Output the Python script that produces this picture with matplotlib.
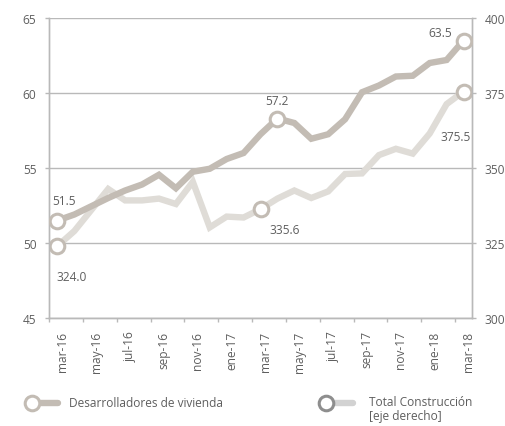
import numpy as np
import matplotlib
matplotlib.use("Agg")
import matplotlib.pyplot as plt
from matplotlib.lines import Line2D

plt.rcParams['font.family'] = ['Open Sans', 'DejaVu Sans']

# monthly, mar-16 .. mar-18
months = ["mar-16", "abr-16", "may-16", "jun-16", "jul-16", "ago-16", "sep-16", "oct-16",
          "nov-16", "dic-16", "ene-17", "feb-17", "mar-17", "abr-17", "may-17", "jun-17",
          "jul-17", "ago-17", "sep-17", "oct-17", "nov-17", "dic-17", "ene-18", "feb-18", "mar-18"]
vivienda = [51.5, 51.9, 52.45, 53.0, 53.5, 53.9, 54.55, 53.65, 54.75, 54.95, 55.6, 56.0,
            57.25, 58.3, 58.0, 56.95, 57.25, 58.25, 60.05, 60.5, 61.1, 61.15, 62.0, 62.2, 63.5]
construccion = [324.0, 329.0, 336.0, 343.0, 339.2, 339.2, 339.8, 338.0, 345.4, 330.2, 333.8, 333.5,
                336.3, 339.8, 342.5, 340.0, 342.2, 348.0, 348.2, 354.3, 356.4, 354.8, 361.5, 371.3, 375.5]

# highlighted points: (index, label text)
viv_marks = [(0, "51.5"), (13, "57.2"), (24, "63.5")]
con_marks = [(0, "324.0"), (12, "335.6"), (24, "375.5")]

c_dark = "#c3bcb4"
c_light = "#dfdcd7"
c_text = "#5e5e5e"
c_grid = "#b9b9b9"
fs = 8.6

fig = plt.figure(figsize=(5.06, 4.27), dpi=100)
ax = fig.add_axes([49/506, 1-319/427, 423/506, 300/427])
ax2 = ax.twinx()
ax.set_zorder(ax2.get_zorder() + 1)
ax.patch.set_visible(False)

x = np.arange(len(months))

# light series (right axis) underneath
ax2.plot(x, construccion, color=c_light, lw=4.6, solid_joinstyle="miter", zorder=2)
ax2.set_ylim(300, 400)
ax2.set_yticks([300, 325, 350, 375, 400])
ax2.yaxis.grid(True, color=c_grid, lw=1)
ax2.set_axisbelow(True)

ax.plot(x, vivienda, color=c_dark, lw=4.6, solid_joinstyle="miter", zorder=3)
ax.set_ylim(45, 65)
ax.set_yticks([45, 50, 55, 60, 65])
ax.set_xlim(-0.5, len(months) - 0.5)

for i, t in viv_marks:
    ax.plot(x[i], vivienda[i], "o", ms=10.5, mfc="white", mec=c_dark, mew=2.2, zorder=5)
for i, t in con_marks:
    ax2.plot(x[i], construccion[i], "o", ms=10.5, mfc="white", mec=c_dark, mew=2.2, zorder=5)

lab = dict(textcoords="offset pixels", color=c_text, fontsize=fs, va="center")
ax.annotate(viv_marks[0][1], (x[0], vivienda[0]), xytext=(-5, 20), ha="left", **lab)
ax.annotate(viv_marks[1][1], (x[13], vivienda[13]), xytext=(0, 18), ha="center", **lab)
ax.annotate(viv_marks[2][1], (x[24], vivienda[24]), xytext=(-12, 8), ha="right", **lab)
ax2.annotate(con_marks[0][1], (x[0], construccion[0]), xytext=(-1, -30), ha="left", **lab)
ax2.annotate(con_marks[1][1], (x[12], construccion[12]), xytext=(24, -20), ha="center", **lab)
ax2.annotate(con_marks[2][1], (x[24], construccion[24]), xytext=(7, -45), ha="right", **lab)

# x ticks at boundaries every 2 months, labels via minor ticks
ax.set_xticks(np.arange(-0.5, len(months) - 1, 2))
ax.set_xticklabels([])
ax.set_xticks(np.arange(0, len(months), 2) + 0.3, minor=True)
ax.set_xticklabels(months[::2], minor=True, rotation=90)
ax.tick_params(axis="x", which="major", length=3, color=c_grid, width=1)
ax.tick_params(axis="x", which="minor", length=0, pad=9, labelsize=fs, labelcolor=c_text)

ax.tick_params(axis="y", length=3, color=c_grid, width=1, pad=6, labelsize=fs, labelcolor=c_text)
ax2.tick_params(axis="y", length=3, color=c_grid, width=1, pad=6, labelsize=fs, labelcolor=c_text)

for a in (ax, ax2):
    for s in a.spines.values():
        s.set_color(c_grid)
        s.set_linewidth(1)
    a.spines["top"].set_visible(False)

# legend, drawn by hand (marker on the left of a short thick line)
fig.add_artist(Line2D([32/506, 58/506], [1-404/427]*2, color=c_dark, lw=4.6, solid_capstyle="round"))
fig.add_artist(Line2D([32/506], [1-404/427], marker="o", ms=10.5, mfc="white", mec=c_dark, mew=2.2))
fig.text(69/506, 1-404/427, "Desarrolladores de vivienda", color=c_text, fontsize=fs, va="center")
fig.add_artist(Line2D([326/506, 353/506], [1-404/427]*2, color="#d2d2d2", lw=4.6, solid_capstyle="round"))
fig.add_artist(Line2D([326/506], [1-404/427], marker="o", ms=10.5, mfc="white", mec="#8e8e8e", mew=2.2))
fig.text(369/506, 1-396/427, "Total Construcción\n[eje derecho]", color=c_text, fontsize=fs,
         va="top", linespacing=1.1)

fig.savefig("out.png", dpi=100)
